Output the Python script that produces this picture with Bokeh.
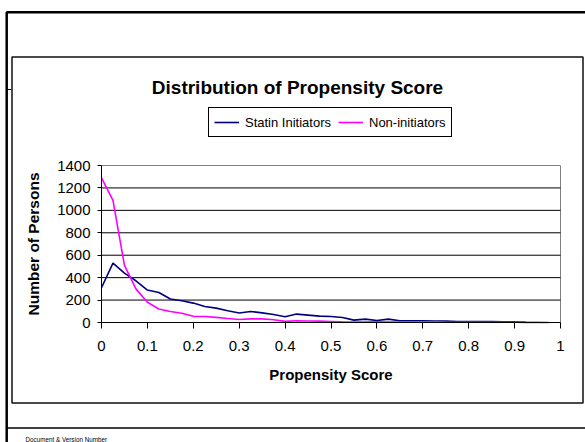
from bokeh.plotting import figure
from bokeh.embed import file_html
from bokeh.resources import INLINE
from bokeh.models import (BoxAnnotation, Label, Legend, LegendItem, FixedTicker,
                          Range1d, NumeralTickFormatter)

# ---------------- data ----------------
title_text = "Distribution of Propensity Score"
x_axis_title = "Propensity Score"
y_axis_title = "Number of Persons"
series_names = ["Statin Initiators", "Non-initiators"]
footer_text = "Document & Version Number"

score_statin = [0.0, 0.025, 0.05, 0.075, 0.1, 0.125, 0.15, 0.175, 0.2, 0.225,
                0.25, 0.275, 0.3, 0.325, 0.35, 0.375, 0.4, 0.425, 0.45, 0.475,
                0.5, 0.525, 0.55, 0.575, 0.6, 0.625, 0.65, 0.675, 0.7, 0.725,
                0.75, 0.775, 0.8, 0.825, 0.85, 0.875, 0.9, 0.925]
count_statin = [310, 530, 440, 372, 289, 268, 209, 194, 173, 143,
                128, 105, 84, 98, 86, 71, 51, 75, 66, 57,
                54, 45, 21, 30, 18, 30, 15, 15, 15, 14,
                12, 9, 8, 8, 8, 7, 6, 2]

score_non = [0.0, 0.025, 0.05, 0.075, 0.1, 0.125, 0.15, 0.175, 0.2, 0.225,
             0.25, 0.275, 0.3, 0.325, 0.35, 0.375, 0.4, 0.425, 0.45, 0.475,
             0.5, 0.525, 0.55, 0.575, 0.6, 0.625, 0.65, 0.675, 0.7, 0.725,
             0.75, 0.775, 0.8, 0.825, 0.85, 0.875, 0.9, 0.925, 0.95, 0.975]
count_non = [1290, 1090, 510, 300, 180, 120, 98, 82, 55, 54,
             46, 36, 27, 32, 32, 24, 10, 16, 13, 12,
             9, 6, 5, 4, 6, 5, 4, 4, 5, 6,
             3, 2, 2, 2, 2, 2, 2, 1, 1, 0]

x_ticks = [0, 0.1, 0.2, 0.3, 0.4, 0.5, 0.6, 0.7, 0.8, 0.9, 1]
x_tick_labels = ["0", "0.1", "0.2", "0.3", "0.4", "0.5", "0.6", "0.7", "0.8", "0.9", "1"]
y_ticks = [0, 200, 400, 600, 800, 1000, 1200, 1400]
y_grid = [200, 400, 600, 800, 1000, 1200]

# ---------------- layout (canvas pixels) ----------------
W, H = 585, 442
PL, PR, PT, PB = 101, 560, 165, 322          # plot-area edges on the canvas
X0, X1 = x_ticks[0], x_ticks[-1]
Y0, Y1 = y_ticks[0], y_ticks[-1]
sx = (PR - PL) / (X1 - X0)
sy = (PB - PT) / (Y1 - Y0)
x_range = Range1d(X0 - PL / sx, X1 + (W - PR) / sx)
y_range = Range1d(Y0 - (H - PB) / sy, Y1 + PT / sy)

FONT = "Liberation Sans"

p = figure(width=W, height=H, output_backend="svg", toolbar_location=None,
           x_range=x_range, y_range=y_range,
           min_border=0, min_border_left=0, min_border_right=0,
           min_border_top=0, min_border_bottom=0)
p.background_fill_color = "white"
p.border_fill_color = "white"
p.outline_line_color = None
p.xgrid.visible = False
p.ygrid.visible = False

# axes drawn at the data origin inside the full-canvas frame
p.xaxis.ticker = FixedTicker(ticks=x_ticks)
p.xaxis.formatter = NumeralTickFormatter(format="0.[0]")
p.xaxis.major_label_overrides = {t: l for t, l in zip(x_ticks, x_tick_labels)}
p.yaxis.ticker = FixedTicker(ticks=y_ticks)
p.xaxis.fixed_location = Y0
p.yaxis.fixed_location = X0
p.xaxis.bounds = (X0, X1)
p.yaxis.bounds = (Y0, Y1)
for ax in (p.xaxis[0], p.yaxis[0]):
    ax.axis_line_color = "black"
    ax.axis_line_width = 1
    ax.major_tick_line_color = "black"
    ax.minor_tick_line_color = None
    ax.major_tick_in = 0
    ax.major_label_text_font = FONT
    ax.major_label_text_font_size = "15px"
    ax.major_label_text_color = "black"
    ax.axis_label_text_font = FONT
    ax.axis_label_text_font_size = "15px"
    ax.axis_label_text_font_style = "bold"
    ax.axis_label_text_color = "black"
p.xaxis.major_tick_out = 6
p.xaxis.major_label_standoff = 12
p.xaxis.axis_label = x_axis_title
p.xaxis.axis_label_standoff = 12
p.yaxis.major_tick_out = 4
p.yaxis.major_label_standoff = 7
p.yaxis.axis_label = y_axis_title
p.yaxis.axis_label_standoff = 12
p.yaxis.axis_label_text_font_size = "15.5px"

# plot-area border and horizontal gridlines
p.add_layout(BoxAnnotation(left=X0, right=X1, bottom=Y0, top=Y1, level="underlay",
                           fill_alpha=0, line_color="#808080", line_alpha=1,
                           line_width=1))
p.segment(x0=X0, x1=X1, y0=y_grid, y1=y_grid, line_color="black", line_width=1)

# series
r1 = p.line(score_statin, count_statin, line_color="#000080", line_width=1.6)
r2 = p.line(score_non, count_non, line_color="#FF00FF", line_width=1.6)

legend = Legend(items=[LegendItem(label=series_names[0], renderers=[r1]),
                       LegendItem(label=series_names[1], renderers=[r2])],
                orientation="horizontal", location=(208, H - 137))
legend.border_line_color = "black"
legend.border_line_width = 1
legend.border_line_alpha = 1
legend.background_fill_color = "white"
legend.background_fill_alpha = 1
legend.label_text_font = FONT
legend.label_text_font_size = "13px"
legend.label_text_color = "black"
legend.padding = 5
legend.spacing = 7
legend.margin = 0
legend.glyph_width = 25
legend.glyph_height = 18
legend.label_height = 18
legend.label_standoff = 6
p.add_layout(legend, "center")

# title (centred on the chart area)
p.add_layout(Label(x=297, y=87, x_units="canvas", y_units="canvas", text=title_text,
                   text_font=FONT, text_font_size="19px", text_font_style="bold",
                   text_color="black", text_align="center", text_baseline="alphabetic"))

# slide decorations
def cbox(**kw):
    return BoxAnnotation(left_units="canvas", right_units="canvas",
                         top_units="canvas", bottom_units="canvas", **kw)

p.add_layout(cbox(left=6.2, right=640, top=11.7, bottom=500,
                  fill_alpha=0, line_color="black", line_alpha=1, line_width=2.5))
p.add_layout(cbox(left=11.5, right=582.5, top=56.5, bottom=402.5,
                  fill_alpha=0, line_color="#111111", line_alpha=1, line_width=1.5))
p.add_layout(cbox(left=6, right=640, top=426.8, bottom=428.2,
                  fill_color="black", fill_alpha=1, line_alpha=0))
p.add_layout(cbox(left=6, right=11, top=88.5, bottom=89.5,
                  fill_color="black", fill_alpha=1, line_alpha=0))
p.add_layout(Label(x=25, y=439, x_units="canvas", y_units="canvas", text=footer_text,
                   text_font=FONT, text_font_size="6.3px", text_color="black",
                   text_baseline="alphabetic"))

open("out.html", "w").write(file_html(p, INLINE))
